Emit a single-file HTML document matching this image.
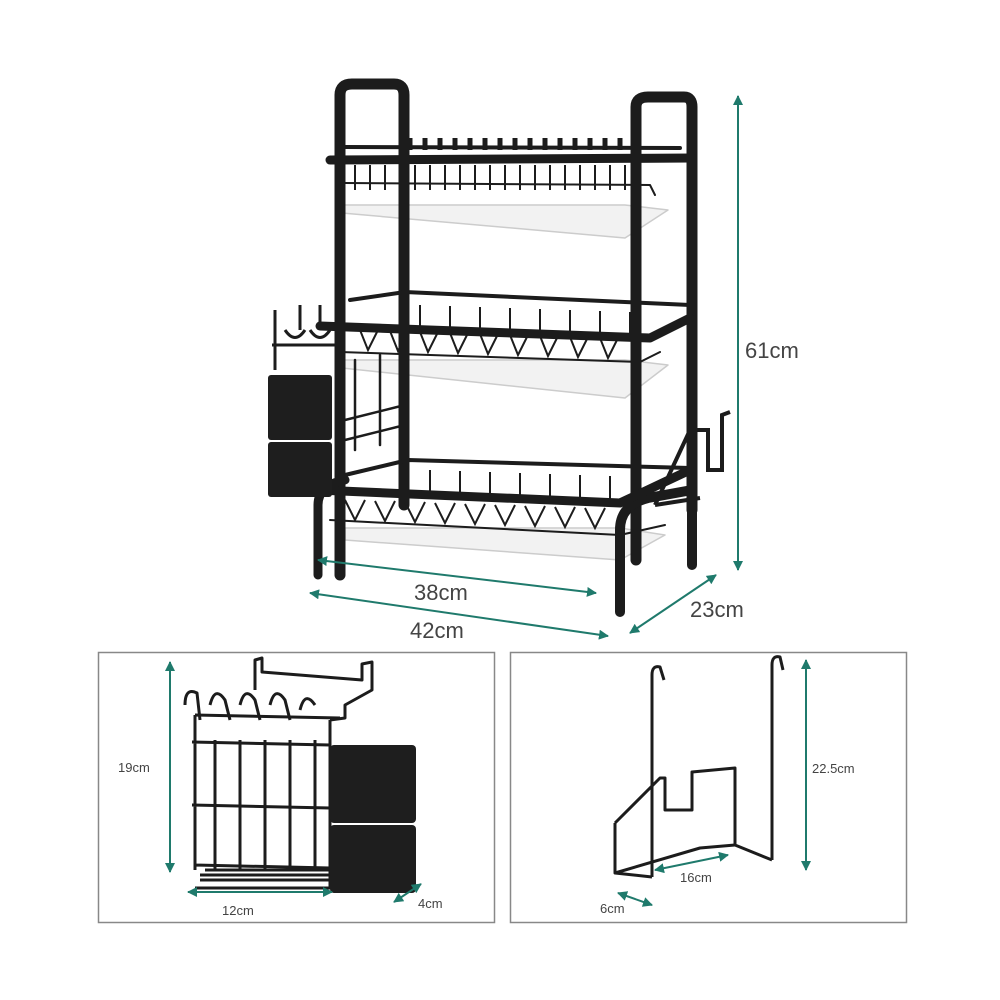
<!DOCTYPE html>
<html><head><meta charset="utf-8"><style>
html,body{margin:0;padding:0;background:#fff;}
svg{display:block;}
text{font-family:"Liberation Sans",sans-serif;fill:#444;}
</style></head><body>
<svg width="1000" height="1000" viewBox="0 0 1000 1000" xmlns="http://www.w3.org/2000/svg">
<defs>
<marker id="a" markerWidth="10" markerHeight="10" refX="9" refY="5" orient="auto" markerUnits="userSpaceOnUse"><path d="M0,0 L10,5 L0,10 z" fill="#1f7a6c"/></marker>
<marker id="b" markerWidth="10" markerHeight="10" refX="1" refY="5" orient="auto" markerUnits="userSpaceOnUse"><path d="M10,0 L0,5 L10,10 z" fill="#1f7a6c"/></marker>
</defs>
<rect width="1000" height="1000" fill="#fff"/>

<!-- ===== main rack ===== -->
<g fill="none" stroke="#1c1c1c" stroke-linejoin="round" stroke-linecap="round">
 <!-- trays -->
 <g fill="#f2f2f2" stroke="#ccc" stroke-width="1.5">
  <path d="M342,205 L625,205 L668,210 L625,238 L342,213 z"/>
  <path d="M342,360 L625,360 L668,365 L625,398 L342,368 z"/>
  <path d="M345,528 L620,528 L665,535 L620,560 L345,540 z"/>
 </g>
 <!-- left handle / posts -->
 <path d="M340,575 L340,95 Q340,84 352,84 L394,84 Q404,84 404,95 L404,505" stroke-width="11"/>
 <path d="M636,560 L636,107 Q636,97 648,97 L684,97 Q692,97 692,107 L692,510" stroke-width="11"/>
 <path d="M620,612 L620,530 Q620,505 648,498 L692,490 L692,565" stroke-width="10"/>
 <path d="M318,575 L318,505 Q318,485 345,480" stroke-width="9"/>
 <!-- top shelf -->
 <path d="M330,160 L692,158" stroke-width="9"/>
 <path d="M345,147 L680,148" stroke-width="4"/>
 <path d="M345,183 L650,185 L655,195" stroke-width="2"/>
 <!-- middle shelf -->
 <path d="M320,326 L650,338 L690,318" stroke-width="9"/>
 <path d="M350,300 L405,292 L690,305" stroke-width="4"/>
 <path d="M340,352 L640,362 L660,352" stroke-width="2"/>
 <!-- bottom shelf -->
 <path d="M318,490 L620,503 L690,470" stroke-width="9"/>
 <path d="M345,475 L408,460 L690,468" stroke-width="4"/>
 <path d="M330,520 L620,535 L665,525" stroke-width="2"/>
 <!-- side rails -->
 <path d="M345,440 L405,425 M345,420 L405,405 M355,360 L355,450 M380,355 L380,445" stroke-width="2.5"/>
</g>
<!-- wire tines -->
<g stroke="#1c1c1c" stroke-width="2" fill="none">
 <path d="M355,165 v25 M370,165 v25 M385,165 v25 M400,165 v25 M415,165 v25 M430,165 v25 M445,165 v25 M460,165 v25 M475,165 v25 M490,165 v25 M505,165 v25 M520,165 v25 M535,165 v25 M550,165 v25 M565,165 v25 M580,165 v25 M595,165 v25 M610,165 v25 M625,165 v25"/>
 <path d="M410,150 v-12 M425,150 v-12 M440,150 v-12 M455,150 v-12 M470,150 v-12 M485,150 v-12 M500,150 v-12 M515,150 v-12 M530,150 v-12 M545,150 v-12 M560,150 v-12 M575,150 v-12 M590,150 v-12 M605,150 v-12 M620,150 v-12" stroke-width="5"/>
 <path d="M360,330 l8,20 l10,-20 M390,331 l8,20 l10,-20 M420,332 l8,20 l10,-20 M450,333 l8,20 l10,-20 M480,334 l8,20 l10,-20 M510,335 l8,20 l10,-20 M540,336 l8,20 l10,-20 M570,337 l8,20 l10,-20 M600,338 l8,20 l10,-20"/>
 <path d="M420,305 v22 M450,306 v22 M480,307 v22 M510,308 v22 M540,309 v22 M570,310 v22 M600,311 v22 M630,312 v22"/>
 <path d="M345,500 l10,20 l10,-20 M375,501 l10,20 l10,-20 M405,502 l10,20 l10,-20 M435,503 l10,20 l10,-20 M465,504 l10,20 l10,-20 M495,505 l10,20 l10,-20 M525,506 l10,20 l10,-20 M555,507 l10,20 l10,-20 M585,508 l10,20 l10,-20"/>
 <path d="M430,470 v25 M460,471 v25 M490,472 v25 M520,473 v25 M550,474 v25 M580,475 v25 M610,476 v25"/>
</g>
<!-- left utensil holder on rack -->
<g fill="#1e1e1e">
 <rect x="268" y="375" width="64" height="65" rx="3"/>
 <rect x="268" y="442" width="64" height="55" rx="3"/>
</g>
<path d="M275,370 L275,310 M285,330 q10,15 20,0 M300,330 l0,-25 M310,330 q10,15 20,0 M320,330 l0,-25 M272,345 L340,345" stroke="#1c1c1c" stroke-width="3" fill="none"/>
<!-- right hook on rack -->
<path d="M655,505 L690,430 L708,430 L708,470 L722,470 L722,415 L730,412 M655,505 L700,498" stroke="#1c1c1c" stroke-width="4" fill="none"/>

<!-- dimension lines -->
<g stroke="#1f7a6c" stroke-width="2" fill="none">
 <line x1="738" y1="96" x2="738" y2="570" marker-start="url(#b)" marker-end="url(#a)"/>
 <line x1="318" y1="560" x2="596" y2="593" marker-start="url(#b)" marker-end="url(#a)"/>
 <line x1="310" y1="593" x2="608" y2="636" marker-start="url(#b)" marker-end="url(#a)"/>
 <line x1="630" y1="633" x2="716" y2="575" marker-start="url(#b)" marker-end="url(#a)"/>
</g>
<text x="745" y="358" font-size="22">61cm</text>
<text x="414" y="600" font-size="22">38cm</text>
<text x="410" y="638" font-size="22">42cm</text>
<text x="690" y="617" font-size="22">23cm</text>

<!-- ===== bottom panels ===== -->
<rect x="98.5" y="652.5" width="396" height="270" fill="none" stroke="#888" stroke-width="1.5"/>
<rect x="510.5" y="652.5" width="396" height="270" fill="none" stroke="#888" stroke-width="1.5"/>

<!-- left panel: utensil holder -->
<g stroke="#1c1c1c" stroke-width="3" fill="none" stroke-linejoin="round">
 <path d="M195,715 L340,718 M192,742 L330,745 M192,805 L330,808 M195,865 L330,868 M195,888 L330,888 M195,870 L195,715 M330,888 L330,720"/>
 <path d="M215,870 L215,740 M240,870 L240,740 M265,870 L265,740 M290,870 L290,740 M315,870 L315,740"/>
 <path d="M205,870 l125,0 M200,875 l130,0 M200,880 l130,0"/>
 <path d="M185,705 q0,-18 12,-12 L200,720 M210,705 q5,-20 15,-5 L230,720 M240,705 q5,-20 15,-5 L260,720 M270,705 q5,-20 15,-5 L290,720 M300,710 q5,-20 15,-5"/>
 <path d="M255,690 L255,660 L262,658 L262,672 L362,680 L362,664 L372,662 L372,690 L345,705 L345,718 L330,720"/>
</g>
<g fill="#1e1e1e">
 <rect x="330" y="745" width="86" height="78" rx="4"/>
 <rect x="330" y="825" width="86" height="68" rx="4"/>
</g>
<g stroke="#1f7a6c" stroke-width="2" fill="none">
 <line x1="170" y1="662" x2="170" y2="872" marker-start="url(#b)" marker-end="url(#a)"/>
 <line x1="188" y1="892" x2="332" y2="892" marker-start="url(#b)" marker-end="url(#a)"/>
 <line x1="394" y1="902" x2="421" y2="884" marker-start="url(#b)" marker-end="url(#a)"/>
</g>
<text x="118" y="772" font-size="13">19cm</text>
<text x="222" y="915" font-size="13">12cm</text>
<text x="418" y="908" font-size="13">4cm</text>

<!-- right panel: cutting board hook -->
<g stroke="#1c1c1c" stroke-width="3" fill="none" stroke-linejoin="round">
 <path d="M652,877 L652,675 Q652,665 660,667 L664,680"/>
 <path d="M772,860 L772,665 Q772,655 780,657 L783,670"/>
 <path d="M615,823 L660,778 L665,778 L665,810 L692,810 L692,772 L735,768 L735,845 L772,860"/>
 <path d="M615,823 L615,873 L652,877"/>
 <path d="M615,873 L700,848 L735,845"/>
</g>
<g stroke="#1f7a6c" stroke-width="2" fill="none">
 <line x1="806" y1="660" x2="806" y2="870" marker-start="url(#b)" marker-end="url(#a)"/>
 <line x1="655" y1="870" x2="728" y2="855" marker-start="url(#b)" marker-end="url(#a)"/>
 <line x1="618" y1="893" x2="652" y2="905" marker-start="url(#b)" marker-end="url(#a)"/>
</g>
<text x="812" y="773" font-size="13">22.5cm</text>
<text x="680" y="882" font-size="13">16cm</text>
<text x="600" y="913" font-size="13">6cm</text>
</svg>
</body></html>
